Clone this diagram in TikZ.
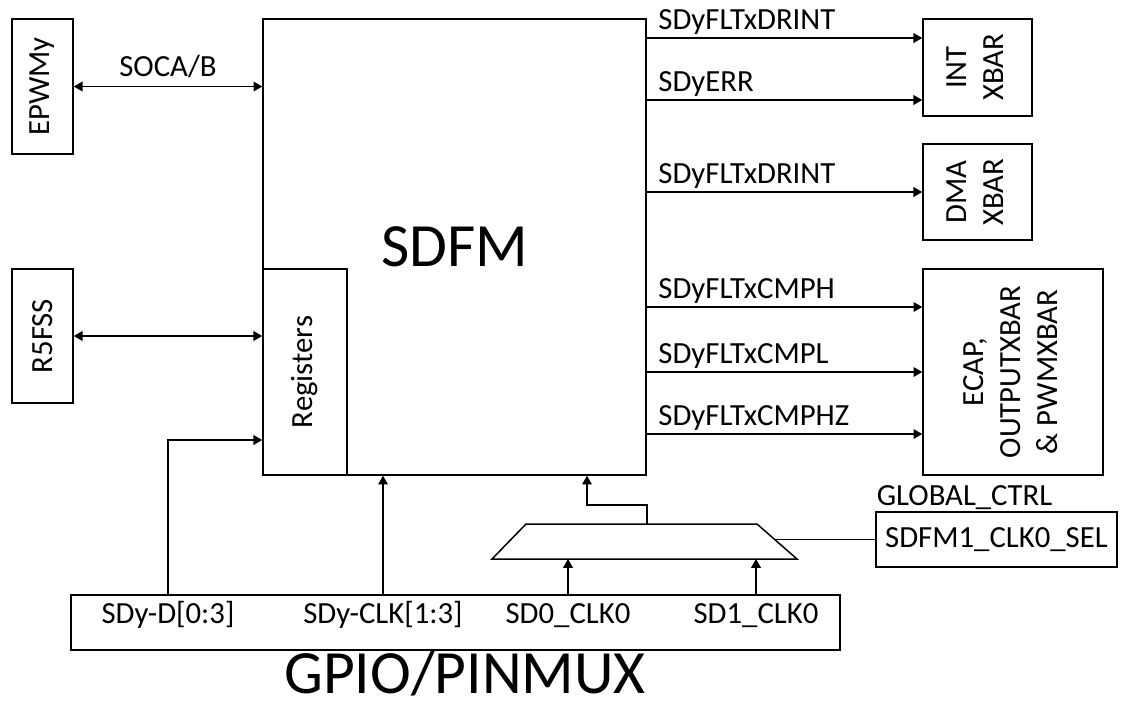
\documentclass[tikz,border=0pt]{standalone}
\usepackage{fontspec}
\setmainfont{Carlito}
\usepackage{graphicx}
\usepackage{tikz}
\usetikzlibrary{arrows.meta,positioning}

\begin{document}
\begin{tikzpicture}[x=0.02cm, y=-0.02cm, line width=0.85pt, >={Triangle[length=5pt,width=5.5pt]}]
    \tikzset{blk/.style={draw, rectangle, inner sep=0pt, font=\fontsize{17.5}{21}\selectfont}}
    \tikzset{sig/.style={inner sep=0pt, font=\fontsize{17.5}{21}\selectfont}}
    \useasboundingbox (0,0) rectangle (1121,707);

    % LEFT BLOCKS
    \node[blk, minimum width=1.22cm, minimum height=2.7cm] (epwm) at (42.5,86.5) {\rotatebox{90}{EPWMy}};
    \node[blk, minimum width=1.22cm, minimum height=2.68cm] (r5fss) at (42.5,336) {\rotatebox{90}{R5FSS}};

    % SDFM CORE
    \node[blk, minimum width=7.66cm, minimum height=9.12cm, font=\fontsize{35}{40}\selectfont] (sdfm) at (454.5,247) {SDFM};
    \node[blk, minimum width=1.68cm, minimum height=4.12cm] (regs) at (305,372) {\rotatebox{90}{Registers}};

    % RIGHT BLOCKS
    \node[blk, minimum width=2.18cm, minimum height=1.94cm] (intx) at (977.5,67.5)
        {\rotatebox{90}{\begin{tabular}{@{}c@{}}INT\\XBAR\end{tabular}}};
    \node[blk, minimum width=2.18cm, minimum height=1.92cm] (dmax) at (977.5,192)
        {\rotatebox{90}{\begin{tabular}{@{}c@{}}DMA\\XBAR\end{tabular}}};
    \node[blk, minimum width=3.6cm, minimum height=4.12cm] (ecap) at (1013,372)
        {\rotatebox{90}{\begin{tabular}{@{}c@{}}ECAP,\\OUTPUTXBAR\\\& PWMXBAR\end{tabular}}};
    \node[blk, minimum width=4.82cm, minimum height=1.1cm] (sel) at (996.5,539.5) {SDFM1\_CLK0\_SEL};
    \node[sig, anchor=base west] (glob) at (876,505) {GLOBAL\_CTRL};

    % GPIO BLOCK
    \node[blk, minimum width=15.38cm, minimum height=1.1cm] (gpio) at (455.5,622.5) {};
    \node[sig, font=\fontsize{35}{40}\selectfont, anchor=base] (gpiolbl) at (465,693) {GPIO/PINMUX};
    \node[sig, anchor=base] (pind) at (168,623) {SDy-D[0:3]};
    \node[sig, anchor=base] (pinclk) at (383,623) {SDy-CLK[1:3]};
    \node[sig, anchor=base] (psd0) at (568,623) {SD0\_CLK0};
    \node[sig, anchor=base] (psd1) at (756,623) {SD1\_CLK0};

    % CLOCK MUX
    \coordinate (muxtl) at (526,524);
    \coordinate (muxtr) at (757,524);
    \coordinate (muxbr) at (797,559);
    \coordinate (muxbl) at (492,559);
    \coordinate (muxout) at (647,524);
    \coordinate (muxr) at (775,539.5);
    \coordinate (bend) at (587,505);
    \draw (muxtl) -- (muxtr) -- (muxbr) -- (muxbl) -- cycle;

    % LEFT CONNECTIONS
    \draw[<->] (epwm.east) -- (epwm.east -| sdfm.west)
        node[sig, midway, anchor=base, yshift=0.2cm] (soca) {SOCA/B};
    \draw[<->] (r5fss.east) -- (r5fss.east -| regs.west);
    \draw[->] (pind |- gpio.north) |- (regs.west |- 0,440);

    % BOTTOM CONNECTIONS
    \draw[->] (pinclk |- gpio.north) -- (pinclk |- sdfm.south);
    \draw[->] (psd0 |- gpio.north) -- (psd0 |- muxbl);
    \draw[->] (psd1 |- gpio.north) -- (psd1 |- muxbl);
    \draw[->] (muxout) |- (bend) -- (bend |- sdfm.south);
    \draw (muxr) -- (sel.west);

    % OUTPUT SIGNALS
    \foreach \y/\txt/\tgt [count=\i] in {38/SDyFLTxDRINT/intx, 100/SDyERR/intx, 192/SDyFLTxDRINT/dmax,
                                         307/SDyFLTxCMPH/ecap, 372/SDyFLTxCMPL/ecap, 434/SDyFLTxCMPHZ/ecap} {
        \draw[->] (sdfm.east |- 0,\y) -- (\tgt.west |- 0,\y)
            node[sig, pos=0, anchor=base west, xshift=0.22cm, yshift=0.18cm] (out\i) {\txt};
    }
\end{tikzpicture}
\end{document}
